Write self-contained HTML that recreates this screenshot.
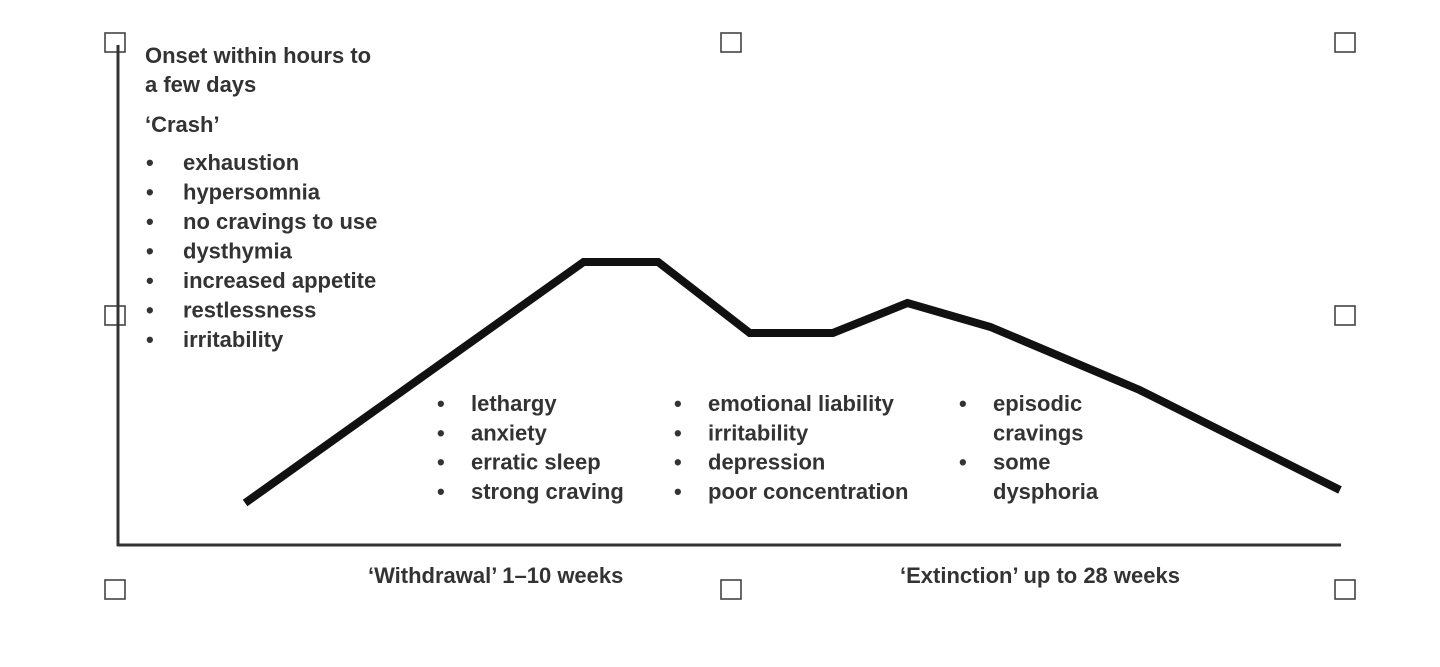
<!DOCTYPE html>
<html><head><meta charset="utf-8"><style>
body{margin:0;background:#fff;width:1440px;height:662px;overflow:hidden;font-family:"Liberation Sans",sans-serif;}
svg text{font-family:"Liberation Sans",sans-serif;font-weight:bold;font-size:22px;fill:#333;}
</style></head><body>
<svg width="1440" height="662">
<g id="handles"></g>
<line x1="118" y1="45" x2="118" y2="546" stroke="#333" stroke-width="3"/>
<line x1="117" y1="545" x2="1341" y2="545" stroke="#333" stroke-width="3"/>
<polyline id="curve" fill="none" stroke="#111" stroke-width="8" stroke-linejoin="miter"/>
<g>
<text x="145" y="63">Onset within hours to</text>
<text x="145" y="92">a few days</text>
<text x="145" y="132">‘Crash’</text>
<g id="crash-list"></g>
</g>
<g id="lists"></g>
<text x="368" y="583">‘Withdrawal’ 1–10 weeks</text>
<text x="900" y="583">‘Extinction’ up to 28 weeks</text>
</svg>
<script>
const timePoints=[10.4,38.1,44.2,51.7,58.5,64.6,71.4,83.6,100];
const severity=[8.4,56.6,56.6,42.4,42.4,48.4,43.6,31,11];
const crashItems=["exhaustion","hypersomnia","no cravings to use","dysthymia","increased appetite","restlessness","irritability"];
const withdrawalA=["lethargy","anxiety","erratic sleep","strong craving"];
const withdrawalB=["emotional liability","irritability","depression","poor concentration"];
const extinctionItems=[["episodic","cravings"],["some","dysphoria"]];
const xs=v=>118+v/100*1222, ys=v=>545-v*5;
const NS="http://www.w3.org/2000/svg";
document.getElementById('curve').setAttribute('points',timePoints.map((t,i)=>xs(t)+','+ys(severity[i])).join(' '));
function txt(parent,x,y,s){const t=document.createElementNS(NS,'text');t.setAttribute('x',x);t.setAttribute('y',y);t.textContent=s;


parent.appendChild(t);}
const cl=document.getElementById('crash-list');
crashItems.forEach((s,i)=>{txt(cl,146,170+i*29.5,'•');txt(cl,183,170+i*29.5,s);});
const ls=document.getElementById('lists');
withdrawalA.forEach((s,i)=>{txt(ls,437,411+i*29.3,'•');txt(ls,471,411+i*29.3,s);});
withdrawalB.forEach((s,i)=>{txt(ls,674,411+i*29.3,'•');txt(ls,708,411+i*29.3,s);});
let row=0;extinctionItems.forEach(it=>{it.forEach((s,j)=>{if(j==0)txt(ls,959,411+row*29.3,'•');txt(ls,993,411+row*29.3,s);row++;});});
const hs=[[115,43],[731,43],[1345,43],[115,316],[1345,316],[115,590],[731,590],[1345,590]];
const hg=document.getElementById('handles');
hs.forEach(([x,y])=>{const r=document.createElementNS(NS,'rect');r.setAttribute('x',x-10);r.setAttribute('y',y-10);r.setAttribute('width',20);r.setAttribute('height',19);r.setAttribute('fill','#fff');r.setAttribute('stroke','#444');r.setAttribute('stroke-width','1.6');


hg.appendChild(r);});
</script>
</body></html>
